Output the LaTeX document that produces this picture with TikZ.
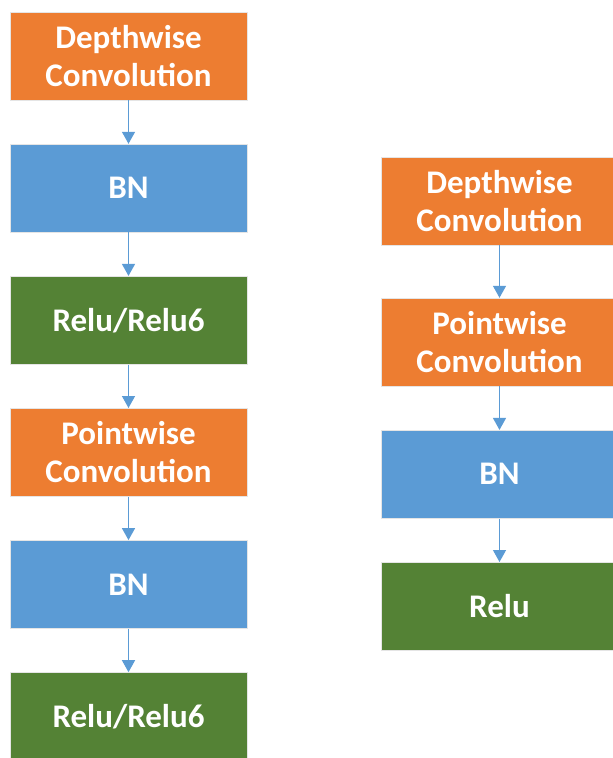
\documentclass[tikz,border=0pt]{standalone}
\usepackage{fontspec}
\setmainfont{Carlito}
\usetikzlibrary{positioning,arrows.meta}
\definecolor{convorange}{HTML}{ED7D31}
\definecolor{bnblue}{HTML}{5B9BD5}
\definecolor{relugreen}{HTML}{548235}
\tikzset{
	layer/.style={minimum width=237pt, minimum height=88pt, inner sep=0, align=center, text=white, draw=black!10, line width=0.6pt, font=\fontsize{33}{38}\selectfont\bfseries},
	conv/.style={layer, fill=convorange},
	bn/.style={layer, fill=bnblue},
	act/.style={layer, fill=relugreen},
	flow/.style={draw=bnblue, line width=1.3pt, -{Triangle[width=13pt,length=12pt]}},
}
\begin{document}
\begin{tikzpicture}[x=1pt, y=1pt, node distance=43.5pt]
	\clip (0,0) rectangle (613,-758);
	% standard separable block
	\node[conv] (dwleft) at (128.5,-56) {Depthwise\\Convolution};
	\node[bn, below = of dwleft] (bnleftA) {BN};
	\node[act, below = of bnleftA] (actleftA) {Relu/Relu6};
	\node[conv, below = of actleftA] (pwleft) {Pointwise\\Convolution};
	\node[bn, below = of pwleft] (bnleftB) {BN};
	\node[act, below = of bnleftB] (actleftB) {Relu/Relu6};

	% merged block
	\node[conv] (dwright) at (499.5,-201) {Depthwise\\Convolution};
	\node[conv, below = 52.5pt of dwright] (pwright) {Pointwise\\Convolution};
	\node[bn, below = of pwright] (bnright) {BN};
	\node[act, below = of bnright] (actright) {Relu};

	\draw[flow] (dwleft) -- (bnleftA);
	\draw[flow] (bnleftA) -- (actleftA);
	\draw[flow] (actleftA) -- (pwleft);
	\draw[flow] (pwleft) -- (bnleftB);
	\draw[flow] (bnleftB) -- (actleftB);

	\draw[flow] (dwright) -- (pwright);
	\draw[flow] (pwright) -- (bnright);
	\draw[flow] (bnright) -- (actright);
\end{tikzpicture}
\end{document}
